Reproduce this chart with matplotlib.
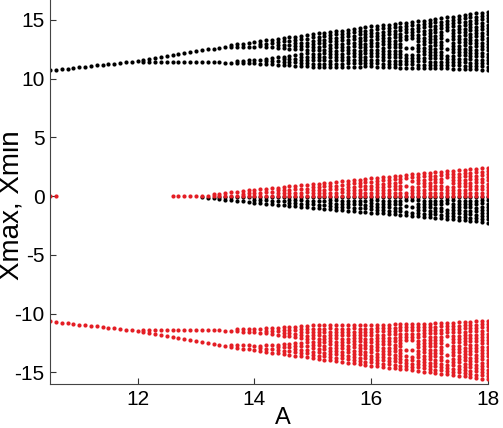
import numpy as np
import matplotlib.pyplot as plt

plt.rcParams['font.family'] = ['Liberation Sans', 'DejaVu Sans']
plt.rcParams['axes.unicode_minus'] = False

# A is sampled every 0.1 from 10.5 to 18
a_cols = np.round(np.arange(10.5, 18.0 + 1e-9, 0.1), 1)

# columns that fall in periodic windows (sparser middle of the band)
window_a = [16.6, 16.7, 17.3]

# ---- Xmax (black) ----
# single branch before the split
xmax_line_a = [10.5, 12.0]
xmax_line_y = [10.7, 11.5]
# two sub-branches after the split
xmax_up_a = [12.1, 13.4, 14.1, 14.9]
xmax_up_lo = [11.6, 12.65, 12.75, 12.45]
xmax_up_hi = [11.6, 12.7, 13.2, 13.7]
xmax_dn_a = [12.1, 13.4, 14.1, 14.9]
xmax_dn_lo = [11.4, 11.38, 11.28, 11.05]
xmax_dn_hi = [11.4, 11.42, 11.62, 12.15]
# merged chaotic band
xmax_band_a = [15.0, 15.5, 16.0, 16.5, 17.0, 17.5, 18.0]
xmax_band_lo = [11.0, 11.0, 11.05, 10.95, 10.9, 10.85, 10.75]
xmax_band_hi = [13.8, 14.1, 14.45, 14.7, 15.0, 15.35, 15.7]
# band near zero
xmax_mid_a = [13.1, 14.0, 15.0, 16.0, 17.0, 18.0]
xmax_mid_lo = [-0.1, -0.55, -1.0, -1.4, -1.8, -2.25]
xmax_mid_hi = [-0.05, -0.1, -0.1, -0.1, -0.1, -0.1]

# ---- Xmin (red) ----
xmin_line_a = [10.5, 12.0]
xmin_line_y = [-10.65, -11.5]
xmin_up_a = [12.1, 13.4, 14.1, 14.9]
xmin_up_lo = [-11.4, -11.42, -11.62, -12.15]
xmin_up_hi = [-11.4, -11.38, -11.28, -11.05]
xmin_dn_a = [12.1, 13.4, 14.1, 14.9]
xmin_dn_lo = [-11.6, -12.7, -13.2, -13.7]
xmin_dn_hi = [-11.6, -12.65, -12.75, -12.45]
xmin_band_a = [15.0, 15.5, 16.0, 16.5, 17.0, 17.5, 18.0]
xmin_band_lo = [-13.8, -14.1, -14.45, -14.7, -15.0, -15.3, -15.6]
xmin_band_hi = [-11.0, -11.0, -11.0, -10.9, -10.85, -10.75, -10.6]
xmin_mid_a = [12.6, 13.1, 14.0, 15.0, 16.0, 17.0, 18.0]
xmin_mid_lo = [0.0, 0.0, 0.0, 0.0, 0.0, 0.0, 0.0]
xmin_mid_hi = [0.0, 0.05, 0.55, 1.0, 1.5, 2.0, 2.4]
xmin_start_a = [10.5, 10.6]
xmin_start_y = [0.0, 0.0]


def band(a_chk, lo_chk, hi_chk, step=0.28):
    xs, ys = [], []
    for a in a_cols:
        if a < a_chk[0] - 1e-9 or a > a_chk[-1] + 1e-9:
            continue
        lo = np.interp(a, a_chk, lo_chk)
        hi = np.interp(a, a_chk, hi_chk)
        n = max(1, int(round((hi - lo) / step)) + 1)
        lev = np.linspace(lo, hi, n)
        if np.any(np.isclose(a, window_a)) and n > 6:
            frac = (lev - lo) / (hi - lo)
            keep = (frac < 0.3) | (frac > 0.7) | (np.arange(n) % 3 == 0)
            lev = lev[keep]
        xs += [a] * len(lev)
        ys += list(lev)
    return xs, ys


fig = plt.figure(figsize=(5.03, 4.28), dpi=100)
ax = fig.add_axes([50 / 503, 1 - 384 / 428, 438 / 503, 384 / 428])

black = '#000000'
red = '#e41e25'
ms = 3.0

for a_chk, lo, hi in [(xmax_line_a, xmax_line_y, xmax_line_y),
                      (xmax_up_a, xmax_up_lo, xmax_up_hi),
                      (xmax_dn_a, xmax_dn_lo, xmax_dn_hi),
                      (xmax_band_a, xmax_band_lo, xmax_band_hi),
                      (xmax_mid_a, xmax_mid_lo, xmax_mid_hi)]:
    x, y = band(a_chk, lo, hi)
    ax.plot(x, y, 'o', color=black, ms=ms, mew=0)

for a_chk, lo, hi in [(xmin_line_a, xmin_line_y, xmin_line_y),
                      (xmin_up_a, xmin_up_lo, xmin_up_hi),
                      (xmin_dn_a, xmin_dn_lo, xmin_dn_hi),
                      (xmin_band_a, xmin_band_lo, xmin_band_hi),
                      (xmin_mid_a, xmin_mid_lo, xmin_mid_hi)]:
    x, y = band(a_chk, lo, hi)
    ax.plot(x, y, 'o', color=red, ms=ms, mew=0)
ax.plot(xmin_start_a, xmin_start_y, 'o', color=red, ms=ms, mew=0)

ax.set_xlim(10.5, 18)
ax.set_ylim(-16, 16.7)
ax.set_xticks([12, 14, 16, 18])
ax.set_yticks([-15, -10, -5, 0, 5, 10, 15])
ax.tick_params(direction='in', length=4, width=0.8, colors='#333333',
               labelcolor='black', labelsize=15, pad=4)
for side in ['top', 'right']:
    ax.spines[side].set_visible(False)
for side in ['left', 'bottom']:
    ax.spines[side].set_color('#444444')
    ax.spines[side].set_linewidth(0.8)

ax.set_xlabel('A', fontsize=17)
ax.xaxis.set_label_coords(0.532, -0.06)
ax.set_ylabel('Xmax, Xmin', fontsize=20)
ax.yaxis.set_label_coords(-0.058, 0.465)

fig.savefig('out.png', dpi=100)
